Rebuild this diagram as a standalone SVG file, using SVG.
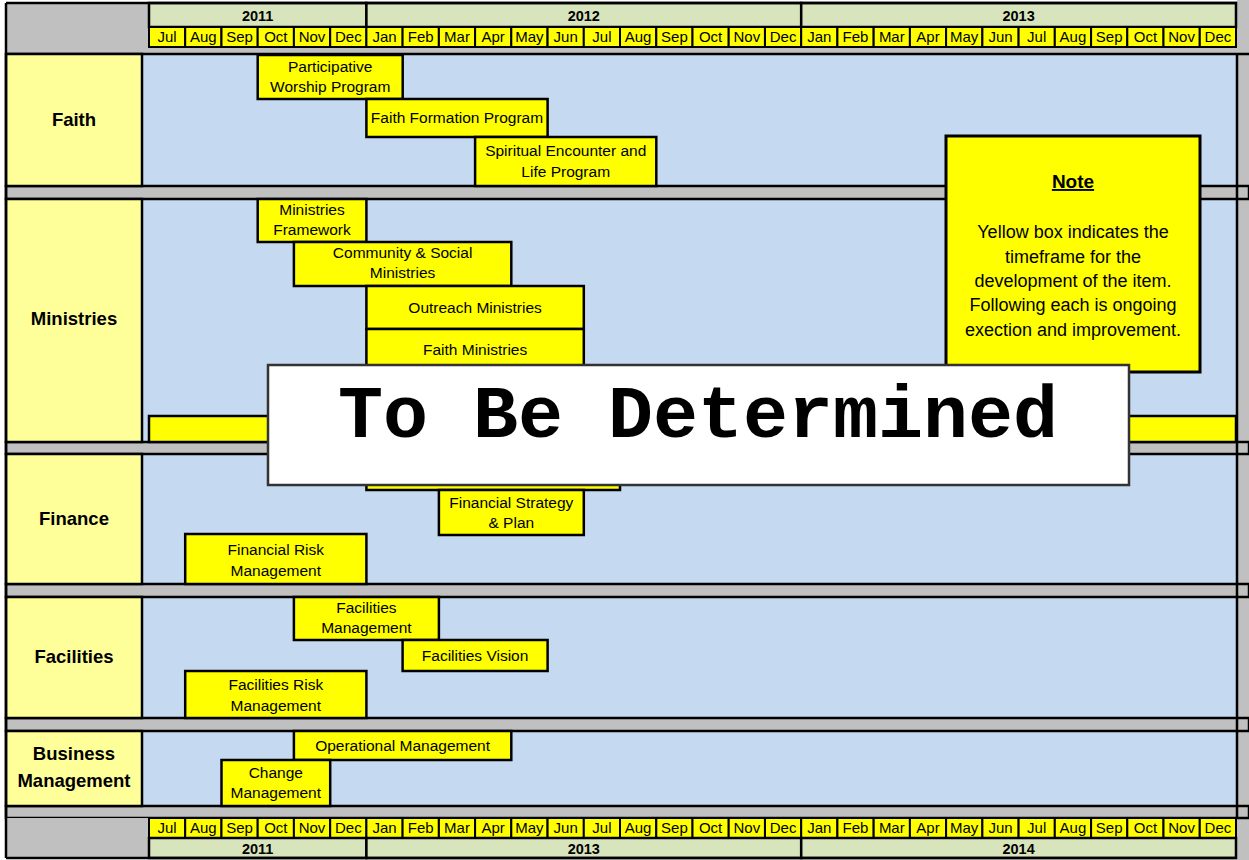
<svg xmlns="http://www.w3.org/2000/svg" width="1249" height="860" viewBox="0 0 1249 860">
<style>
.gray{fill:#C0C0C0}
.blue{fill:#C5D9F1}
.lab{fill:#FFFF99;stroke:#000;stroke-width:2.5}
.sep{fill:#C0C0C0;stroke:#000;stroke-width:2.5}
.bar{fill:#FFFF00;stroke:#000;stroke-width:2.5}
.mon{fill:#FFFF00;stroke:#000;stroke-width:2}
.yr{fill:#D8E4BC;stroke:#000;stroke-width:2.5}
.ln{stroke:#000;stroke-width:2.5;fill:none}
text{font-family:"Liberation Sans",Arial,sans-serif;fill:#000}
.mt{font-size:15px;text-anchor:middle}
.yt{font-size:14.5px;font-weight:bold;text-anchor:middle}
.bx{font-size:15.5px;text-anchor:middle}
.lt{font-size:18.5px;font-weight:bold;text-anchor:middle}
.nt{font-size:18px;text-anchor:middle}
</style>
<defs>
<g id="months">
<rect class="mon" x="149" y="0" width="36.2" height="20"/><text class="mt" x="167.1" y="15">Jul</text>
<rect class="mon" x="185.2" y="0" width="36.2" height="20"/><text class="mt" x="203.3" y="15">Aug</text>
<rect class="mon" x="221.5" y="0" width="36.2" height="20"/><text class="mt" x="239.6" y="15">Sep</text>
<rect class="mon" x="257.7" y="0" width="36.2" height="20"/><text class="mt" x="275.8" y="15">Oct</text>
<rect class="mon" x="293.9" y="0" width="36.2" height="20"/><text class="mt" x="312" y="15">Nov</text>
<rect class="mon" x="330.2" y="0" width="36.2" height="20"/><text class="mt" x="348.3" y="15">Dec</text>
<rect class="mon" x="366.4" y="0" width="36.2" height="20"/><text class="mt" x="384.5" y="15">Jan</text>
<rect class="mon" x="402.6" y="0" width="36.2" height="20"/><text class="mt" x="420.7" y="15">Feb</text>
<rect class="mon" x="438.9" y="0" width="36.2" height="20"/><text class="mt" x="457" y="15">Mar</text>
<rect class="mon" x="475.1" y="0" width="36.2" height="20"/><text class="mt" x="493.2" y="15">Apr</text>
<rect class="mon" x="511.3" y="0" width="36.2" height="20"/><text class="mt" x="529.4" y="15">May</text>
<rect class="mon" x="547.6" y="0" width="36.2" height="20"/><text class="mt" x="565.7" y="15">Jun</text>
<rect class="mon" x="583.8" y="0" width="36.2" height="20"/><text class="mt" x="601.9" y="15">Jul</text>
<rect class="mon" x="620" y="0" width="36.2" height="20"/><text class="mt" x="638.1" y="15">Aug</text>
<rect class="mon" x="656.3" y="0" width="36.2" height="20"/><text class="mt" x="674.4" y="15">Sep</text>
<rect class="mon" x="692.5" y="0" width="36.2" height="20"/><text class="mt" x="710.6" y="15">Oct</text>
<rect class="mon" x="728.7" y="0" width="36.2" height="20"/><text class="mt" x="746.8" y="15">Nov</text>
<rect class="mon" x="765" y="0" width="36.2" height="20"/><text class="mt" x="783.1" y="15">Dec</text>
<rect class="mon" x="801.2" y="0" width="36.2" height="20"/><text class="mt" x="819.3" y="15">Jan</text>
<rect class="mon" x="837.4" y="0" width="36.2" height="20"/><text class="mt" x="855.5" y="15">Feb</text>
<rect class="mon" x="873.7" y="0" width="36.2" height="20"/><text class="mt" x="891.8" y="15">Mar</text>
<rect class="mon" x="909.9" y="0" width="36.2" height="20"/><text class="mt" x="928" y="15">Apr</text>
<rect class="mon" x="946.1" y="0" width="36.2" height="20"/><text class="mt" x="964.2" y="15">May</text>
<rect class="mon" x="982.4" y="0" width="36.2" height="20"/><text class="mt" x="1000.5" y="15">Jun</text>
<rect class="mon" x="1018.6" y="0" width="36.2" height="20"/><text class="mt" x="1036.7" y="15">Jul</text>
<rect class="mon" x="1054.8" y="0" width="36.2" height="20"/><text class="mt" x="1072.9" y="15">Aug</text>
<rect class="mon" x="1091.1" y="0" width="36.2" height="20"/><text class="mt" x="1109.2" y="15">Sep</text>
<rect class="mon" x="1127.3" y="0" width="36.2" height="20"/><text class="mt" x="1145.4" y="15">Oct</text>
<rect class="mon" x="1163.5" y="0" width="36.2" height="20"/><text class="mt" x="1181.6" y="15">Nov</text>
<rect class="mon" x="1199.8" y="0" width="36.2" height="20"/><text class="mt" x="1217.9" y="15">Dec</text>
</g>
</defs>

<!-- background -->
<rect x="0" y="0" width="1249" height="860" fill="#FFFFFF"/>
<rect class="gray" x="1237" y="0" width="12" height="860"/>

<!-- top header -->
<g id="header-top">
<rect class="gray" x="6" y="3" width="1231" height="51"/>
<rect class="yr" x="149" y="3" width="217.4" height="24"/><text class="yt" x="257.7" y="21">2011</text>
<rect class="yr" x="366.4" y="3" width="434.8" height="24"/><text class="yt" x="583.8" y="21">2012</text>
<rect class="yr" x="801.2" y="3" width="434.8" height="24"/><text class="yt" x="1018.6" y="21">2013</text>
<use href="#months" y="27"/>
<line class="ln" x1="6" y1="3" x2="1237" y2="3"/>
</g>

<!-- blue area -->
<rect class="blue" x="142" y="54" width="1095" height="764"/>

<!-- separators -->
<g id="separators">
<rect class="sep" x="6" y="186" width="1243" height="13"/>
<rect class="sep" x="6" y="442" width="1243" height="12"/>
<rect class="sep" x="6" y="584" width="1243" height="13"/>
<rect class="sep" x="6" y="718" width="1243" height="13"/>
<rect class="sep" x="6" y="806" width="1243" height="12"/>
<line class="ln" x1="6" y1="54" x2="1249" y2="54"/>
<line class="ln" x1="1237" y1="54" x2="1237" y2="818"/>
</g>

<!-- row labels -->
<g id="label-faith"><rect class="lab" x="6" y="54" width="136" height="132"/><text class="lt" x="74" y="126">Faith</text></g>
<g id="label-ministries"><rect class="lab" x="6" y="199" width="136" height="243"/><text class="lt" x="74" y="325">Ministries</text></g>
<g id="label-finance"><rect class="lab" x="6" y="454" width="136" height="130"/><text class="lt" x="74" y="525">Finance</text></g>
<g id="label-facilities"><rect class="lab" x="6" y="597" width="136" height="121"/><text class="lt" x="74" y="663">Facilities</text></g>
<g id="label-business"><rect class="lab" x="6" y="731" width="136" height="75"/><text class="lt" x="74" y="760">Business</text><text class="lt" x="74" y="787">Management</text></g>

<!-- Faith items -->
<g id="participative-worship"><rect class="bar" x="257.7" y="55" width="145" height="44"/><text class="bx" x="330.2" y="71.5">Participative</text><text class="bx" x="330.2" y="92">Worship Program</text></g>
<g id="faith-formation"><rect class="bar" x="366.4" y="99" width="181.2" height="38"/><text class="bx" x="457" y="122.5">Faith Formation Program</text></g>
<g id="spiritual-encounter"><rect class="bar" x="475.1" y="137" width="181.2" height="49"/><text class="bx" x="565.7" y="156">Spiritual Encounter and</text><text class="bx" x="565.7" y="176.5">Life Program</text></g>

<!-- Ministries items -->
<g id="ministries-framework"><rect class="bar" x="257.7" y="199" width="108.7" height="43"/><text class="bx" x="312" y="214.5">Ministries</text><text class="bx" x="312" y="235">Framework</text></g>
<g id="community-social"><rect class="bar" x="293.9" y="242" width="217.4" height="44"/><text class="bx" x="402.6" y="257.5">Community &amp; Social</text><text class="bx" x="402.6" y="278">Ministries</text></g>
<g id="outreach-ministries"><rect class="bar" x="366.4" y="286" width="217.4" height="43"/><text class="bx" x="475.1" y="312.5">Outreach Ministries</text></g>
<g id="faith-ministries"><rect class="bar" x="366.4" y="329" width="217.4" height="43"/><text class="bx" x="475.1" y="355">Faith Ministries</text></g>
<g id="ministries-ongoing"><rect class="bar" x="149" y="416" width="1087" height="26"/></g>

<!-- Finance items -->
<g id="finance-hidden"><rect class="bar" x="366.4" y="462" width="253.6" height="28"/></g>
<g id="financial-strategy"><rect class="bar" x="438.9" y="490" width="144.9" height="45"/><text class="bx" x="511.3" y="507.5">Financial Strategy</text><text class="bx" x="511.3" y="528">&amp; Plan</text></g>
<g id="financial-risk"><rect class="bar" x="185.2" y="534" width="181.2" height="50"/><text class="bx" x="275.8" y="555">Financial Risk</text><text class="bx" x="275.8" y="575.5">Management</text></g>

<!-- Facilities items -->
<g id="facilities-management"><rect class="bar" x="293.9" y="597" width="145" height="43"/><text class="bx" x="366.4" y="612.5">Facilities</text><text class="bx" x="366.4" y="633">Management</text></g>
<g id="facilities-vision"><rect class="bar" x="402.6" y="640" width="145" height="31"/><text class="bx" x="475.1" y="661">Facilities Vision</text></g>
<g id="facilities-risk"><rect class="bar" x="185.2" y="671" width="181.2" height="47"/><text class="bx" x="275.8" y="690">Facilities Risk</text><text class="bx" x="275.8" y="710.5">Management</text></g>

<!-- Business items -->
<g id="operational-management"><rect class="bar" x="293.9" y="731" width="217.4" height="29"/><text class="bx" x="402.6" y="750.5">Operational Management</text></g>
<g id="change-management"><rect class="bar" x="221.5" y="760" width="108.7" height="46"/><text class="bx" x="275.8" y="777.5">Change</text><text class="bx" x="275.8" y="798">Management</text></g>

<!-- bottom header -->
<g id="header-bottom">
<rect class="gray" x="6" y="818" width="143" height="40"/>
<use href="#months" y="818"/>
<rect class="yr" x="149" y="838" width="217.4" height="20"/><text class="yt" x="257.7" y="854">2011</text>
<rect class="yr" x="366.4" y="838" width="434.8" height="20"/><text class="yt" x="583.8" y="854">2013</text>
<rect class="yr" x="801.2" y="838" width="434.8" height="20"/><text class="yt" x="1018.6" y="854">2014</text>
<line class="ln" x1="6" y1="858" x2="1237" y2="858"/>
</g>
<line class="ln" x1="6" y1="3" x2="6" y2="858"/>

<!-- Note -->
<g id="note">
<rect x="946" y="136" width="254" height="236" fill="#FFFF00" stroke="#000" stroke-width="3"/>
<text x="1073" y="188" style="font-size:19px;font-weight:bold;text-anchor:middle;text-decoration:underline">Note</text>
<text class="nt" x="1073" y="238">Yellow box indicates the</text>
<text class="nt" x="1073" y="262.5">timeframe for the</text>
<text class="nt" x="1073" y="287">development of the item.</text>
<text class="nt" x="1073" y="311">Following each is ongoing</text>
<text class="nt" x="1073" y="336">exection and improvement.</text>
</g>

<!-- To Be Determined -->
<g id="tbd">
<rect x="268" y="365" width="861" height="120" fill="#FFFFFF" stroke="#333" stroke-width="2.5"/>
<text x="698" y="437" style="font-family:'Liberation Mono','Courier New',monospace;font-size:75px;font-weight:bold;text-anchor:middle">To Be Determined</text>
</g>
</svg>
